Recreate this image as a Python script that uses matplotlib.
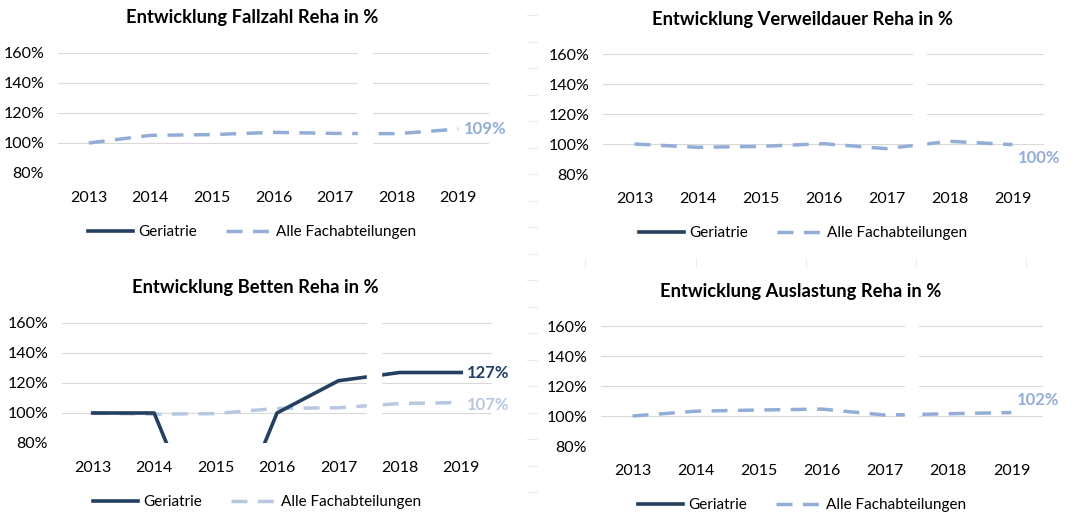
import numpy as np
import matplotlib.pyplot as plt
from matplotlib.lines import Line2D

plt.rcParams['font.family'] = ['Lato', 'DejaVu Sans']

years = ['2013', '2014', '2015', '2016', '2017', '2018', '2019']
yticks = [80, 100, 120, 140, 160]

# values in % (2013 = 100)
fallzahl_geri = [np.nan] * 7
fallzahl_alle = [100, 105.1, 105.6, 107.1, 106.4, 106.2, 109.3]
verweil_geri = [np.nan] * 7
verweil_alle = [100, 97.8, 98.4, 100.2, 96.9, 101.8, 99.6]
betten_geri = [100, 100, 0, 100, 121.5, 127, 127]
betten_alle = [100, 99.2, 99.6, 103.1, 103.5, 106.3, 107]
auslast_geri = [np.nan] * 7
auslast_alle = [100, 103.2, 104, 104.6, 100.6, 101.5, 102.3]

NAVY = '#243f60'
BLUE = '#93aed6'
LIGHT = '#b8c8e2'
GRID = '#d9d9d9'

W, H = 1086, 526
fig = plt.figure(figsize=(W / 100, H / 100), dpi=100)


def px_axes(x0, x1, ytop, ybot):
    return fig.add_axes([x0 / W, 1 - ybot / H, (x1 - x0) / W, (ybot - ytop) / H])


charts = [
    # title, geri, alle, alle colour, plot box, title pos, legend x, gap, label offsets
    ('Entwicklung Fallzahl Reha in %', fallzahl_geri, fallzahl_alle, BLUE,
     (58, 489, 53, 173), (252, 18), 252, (4.37, 4.60), None, (4, 0)),
    ('Entwicklung Verweildauer Reha in %', verweil_geri, verweil_alle, BLUE,
     (603, 1044, 54, 174), (802, 19), 803, (4.42, 4.63), None, (4, -10)),
    ('Entwicklung Betten Reha in %', betten_geri, betten_alle, LIGHT,
     (62, 492, 323, 443), (255, 288), 257, (4.47, 4.69), (4, 0), (4, -2)),
    ('Entwicklung Auslastung Reha in %', auslast_geri, auslast_alle, BLUE,
     (601, 1043, 326, 446), (801, 292), 802, (4.31, 4.52), None, (4, 9)),
]

x = np.arange(len(years))
for title, geri, alle, acol, box, tpos, legx, gap, goff, aoff in charts:
    ax = px_axes(*box)
    ax.set_xlim(-0.5, 6.5)
    ax.set_ylim(80, 160)
    for v in yticks:
        ax.axhline(v, color=GRID, lw=0.8, zorder=1)
    ax.plot(x, alle, color=acol, lw=2.5, dashes=(4.6, 3.0), zorder=3,
            solid_capstyle='butt', dash_capstyle='butt')
    ax.plot(x, geri, color=NAVY, lw=2.6, zorder=4)
    ax.axvspan(gap[0], gap[1], color='white', zorder=5)

    ax.annotate('%d%%' % round(alle[-1]), (x[-1], alle[-1]), xytext=aoff,
                textcoords='offset points', ha='left', va='center',
                color=acol, fontsize=12, fontweight='bold', zorder=6)
    if goff is not None:
        ax.annotate('%d%%' % round(geri[-1]), (x[-1], geri[-1]), xytext=goff,
                    textcoords='offset points', ha='left', va='center',
                    color=NAVY, fontsize=12, fontweight='bold', zorder=6)

    ax.set_xticks(x)
    ax.set_xticklabels(years)
    ax.set_yticks(yticks)
    ax.set_yticklabels(['%d%%' % v for v in yticks])
    ax.tick_params(length=0, labelsize=11.5, colors='#000000')
    ax.tick_params(axis='x', pad=13)
    ax.tick_params(axis='y', pad=10)
    for s in ax.spines.values():
        s.set_visible(False)

    fig.text(tpos[0] / W, 1 - tpos[1] / H, title, ha='center', va='center',
             fontsize=13.2, fontweight='bold')

    handles = [Line2D([], [], color=NAVY, lw=2.6),
               Line2D([], [], color=acol, lw=2.5, dashes=(4.6, 3.0))]
    fig.legend(handles, ['Geriatrie', 'Alle Fachabteilungen'],
               loc='center', bbox_to_anchor=(legx / W, 1 - (box[3] + 59) / H),
               ncol=2, frameon=False, fontsize=11, handlelength=3.0,
               columnspacing=1.9, handletextpad=0.3)

# faint sheet grid remnants between the charts
for yy in np.arange(15, 510, 26.5):
    fig.add_artist(Line2D([527 / W, 537 / W], [1 - yy / H, 1 - yy / H],
                          color='#ececec', lw=0.8))
for xx in [585, 696, 806, 916, 1026]:
    fig.add_artist(Line2D([xx / W, xx / W], [1 - 258 / H, 1 - 266 / H],
                          color='#ececec', lw=0.8))

fig.savefig('out.png', dpi=100)
